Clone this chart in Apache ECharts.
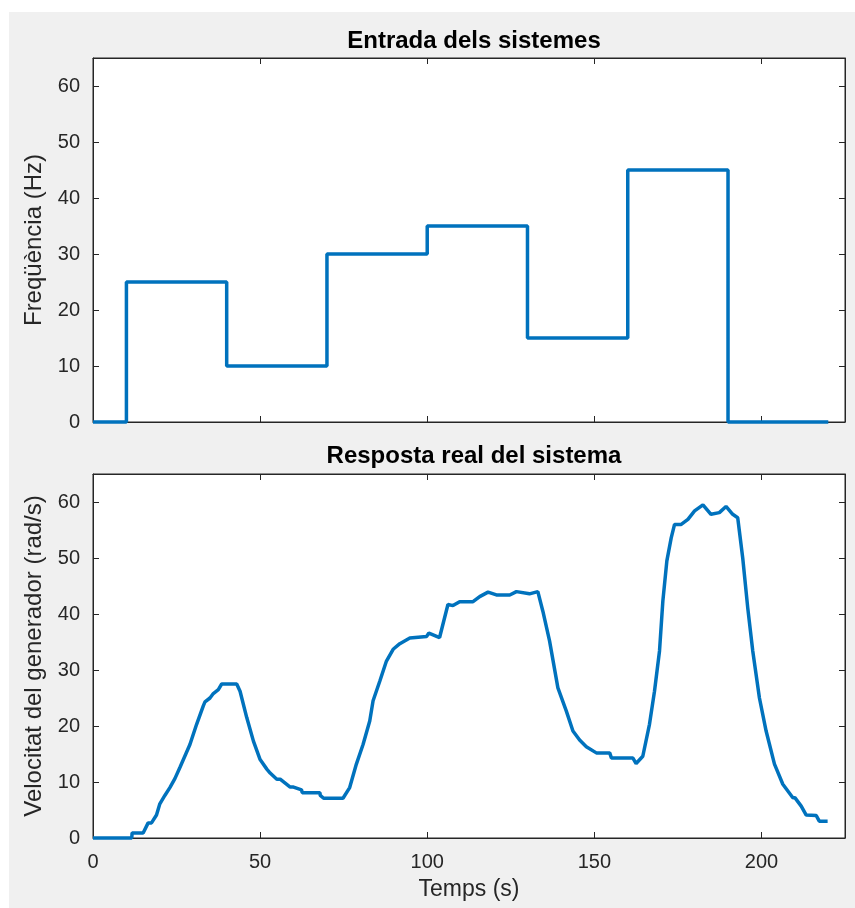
<!DOCTYPE html>
<html>
<head>
<meta charset="utf-8">
<script src="https://cdn.jsdelivr.net/npm/echarts@6/dist/echarts.min.js"></script>
<style>
html,body{margin:0;padding:0;background:#ffffff;}
#bg{position:absolute;left:9px;top:12px;right:0;bottom:0;background:#f0f0f0;}
#chart{position:absolute;left:0;top:0;width:855px;height:908px;}
</style>
</head>
<body>
<div id="bg"></div>
<div id="chart"></div>
<script>
// Top plot: input frequency (step changes)
const inputTimes = [0, 10, 40, 70, 100, 130, 160, 190, 220];
const inputFreq  = [0, 25, 10, 30, 35, 15, 45, 0, 0];

// Bottom plot: measured generator speed
const respTimes = [0, 11.6, 11.7, 15, 16.5, 17.5, 19, 19.5, 20, 21.5, 23, 24.5, 26, 29, 31, 33, 33.5, 35, 36, 37.5, 38.5, 40, 43, 44, 46, 48, 50, 52, 53, 55, 56, 59, 60, 62.4, 62.6, 67.9, 68, 69, 74.8,
  76.8, 78.8, 80.8, 82.8, 83.8, 85.8, 87.8, 89.8, 91.8, 94.8, 99.8, 100.5, 103.7, 106.2, 107.7, 109.7, 113.7, 115.7, 118.2, 120.7, 124.7, 126.7, 130.6, 133.1,
  134.6, 136.6, 139.1, 141.6, 143.6, 145.6, 147.6, 148, 150.6, 154.6, 155.1, 161.5, 162.5, 164.5, 166.5, 168, 169.5, 170.5, 171.7, 173, 174, 176, 178, 180, 182.5,
  184.9, 187.4, 189.4, 191.4, 192.9, 194.4, 195.9, 197.4, 199.4, 201.4, 203.9, 206.4, 209.4, 210, 211.9, 213.4, 216.4, 217.3, 219.8];
const respSpeed = [0, 0, 0.9, 0.9, 2.7, 2.7, 4.1, 4.1, 6.1, 7.6, 9, 10.6, 12.6, 16.7, 20.3, 23.6, 24.3, 25, 25.8, 26.5, 27.5, 27.5, 27.5, 26.2, 21.5, 17.3, 14, 12.3, 11.6, 10.5, 10.5, 9.1, 9.1, 8.6, 8.1, 8.1, 7.6, 7.1, 7.1,
  9, 13.2, 16.7, 20.9, 24.5, 28, 31.6, 33.7, 34.7, 35.7, 36, 36.6, 35.8, 41.7, 41.5, 42.2, 42.2, 43.1, 43.9, 43.4, 43.4, 44, 43.6, 44,
  40.5, 35.2, 26.8, 22.7, 19.1, 17.5, 16.3, 16.3, 15.2, 15.2, 14.3, 14.3, 13.3, 14.6, 20.3, 26.2, 33.4, 42.3, 49.5, 53.6, 56, 56, 56.9, 58.4, 59.5,
  57.8, 58.1, 59.2, 57.8, 57.2, 50, 41.1, 33.4, 25, 19.1, 13.2, 9.6, 7.2, 7.2, 5.7, 4.1, 4, 3, 3];

const xTicks = [0, 50, 100, 150, 200];
const yTicks = [0, 10, 20, 30, 40, 50, 60];

const titles = ['Entrada dels sistemes', 'Resposta real del sistema'];
const yNames = ['Freqüència (Hz)', 'Velocitat del generador (rad/s)'];
const xName = 'Temps (s)';

const AX = '#262626';
const LINE = '#0072BD';
const FONT = '"Liberation Sans", Arial, Helvetica, sans-serif';

const chart = echarts.init(document.getElementById('chart'), null, {renderer: 'canvas'});

const grids = [
  {left: 93, top: 58, width: 752, height: 364},
  {left: 93, top: 474, width: 752, height: 364}
].map(g => Object.assign(g, {show: true, backgroundColor: '#ffffff', borderColor: AX, borderWidth: 1, containLabel: false}));

function xAx(gi, pos, labels, name) {
  return {
    type: 'value', gridIndex: gi, position: pos, min: 0, max: 225, interval: 50,
    axisLine: {show: true, onZero: false, lineStyle: {color: AX, width: 1}},
    axisTick: {show: true, inside: true, length: 6, customValues: xTicks, lineStyle: {color: AX, width: 1}},
    axisLabel: {show: labels, color: AX, fontSize: 20, fontFamily: FONT, margin: 14,
      customValues: xTicks, formatter: v => String(v)},
    splitLine: {show: false},
    name: name || '', nameLocation: 'middle', nameGap: 40,
    nameTextStyle: {color: AX, fontSize: 23, fontFamily: FONT}
  };
}
function yAx(gi, pos, labels, name) {
  return {
    type: 'value', gridIndex: gi, position: pos, min: 0, max: 65, interval: 10,
    axisLine: {show: true, onZero: false, lineStyle: {color: AX, width: 1}},
    axisTick: {show: true, inside: true, length: 6, customValues: yTicks, lineStyle: {color: AX, width: 1}},
    axisLabel: {show: labels, color: AX, fontSize: 20, fontFamily: FONT, margin: 13,
      customValues: yTicks, formatter: v => String(v)},
    splitLine: {show: false},
    name: name || '', nameLocation: 'middle', nameGap: 47, nameRotate: 90,
    nameTextStyle: {color: AX, fontSize: 24, fontFamily: FONT}
  };
}

const option = {
  animation: false,
  backgroundColor: 'transparent',
  title: titles.map((t, i) => ({
    text: t, left: 469, textAlign: 'center', top: i === 0 ? 24 : 439,
    textStyle: {color: '#000', fontSize: 24, fontWeight: 'bold', fontFamily: FONT}
  })),
  grid: grids,
  xAxis: [
    xAx(0, 'bottom', false), xAx(0, 'top', false),
    xAx(1, 'bottom', true, xName), xAx(1, 'top', false)
  ],
  yAxis: [
    yAx(0, 'left', true, yNames[0]), yAx(0, 'right', false),
    yAx(1, 'left', true, yNames[1]), yAx(1, 'right', false)
  ],
  series: [
    {
      type: 'line', xAxisIndex: 0, yAxisIndex: 0, step: 'end', symbol: 'none', clip: false,
      data: inputTimes.map((t, i) => [t, inputFreq[i]]),
      lineStyle: {color: LINE, width: 3.5}
    },
    {
      type: 'line', xAxisIndex: 2, yAxisIndex: 2, symbol: 'none', clip: false, smooth: false,
      data: respTimes.map((t, i) => [t, respSpeed[i]]),
      lineStyle: {color: LINE, width: 3.5}
    }
  ]
};
chart.setOption(option);
</script>
</body>
</html>
